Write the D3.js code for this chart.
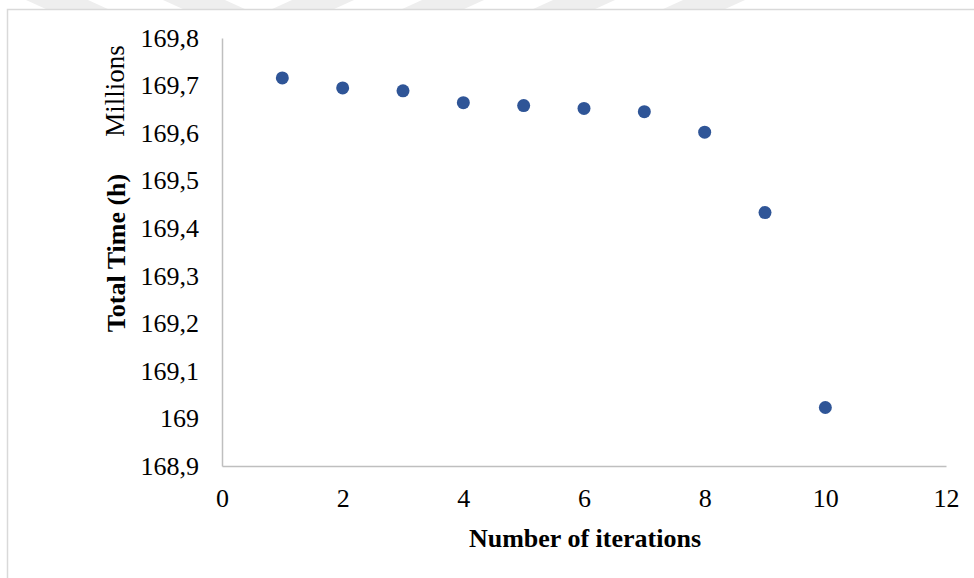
<!DOCTYPE html>
<html>
<head>
<meta charset="utf-8">
<script src="https://cdn.jsdelivr.net/npm/d3@7"></script>
<style>
  html, body { margin: 0; padding: 0; background: #ffffff; }
  svg { display: block; }
  text { font-family: "Liberation Serif", "Times New Roman", serif; fill: #000; }
</style>
</head>
<body>
<script>
// Total time (hours, shown in millions) after each iteration
const iterations = [1, 2, 3, 4, 5, 6, 7, 8, 9, 10];
const totalTimeMillions = [169.716, 169.695, 169.689, 169.664, 169.658, 169.652, 169.645, 169.602, 169.433, 169.023];
const xTicks = [0, 2, 4, 6, 8, 10, 12];
const yTicks = [168.9, 169.0, 169.1, 169.2, 169.3, 169.4, 169.5, 169.6, 169.7, 169.8];
const xTitle = "Number of iterations";
const yTitle = "Total Time (h)";
const unitLabel = "Millions";

const W = 974, H = 578;
const svg = d3.select("body").append("svg").attr("width", W).attr("height", H);

// faint decorative bands along the top edge
const bands = [[26, 1], [163, 1], [292, -1], [422, -1], [553, -1], [683, -1]];
svg.append("g").selectAll("path").data(bands).join("path")
  .attr("d", ([x0, dir]) => {
    const w = 62, h = 10, s = 22 * dir;
    return `M${x0},0 L${x0 + w},0 L${x0 + w + s},${h} L${x0 + s},${h} Z`;
  })
  .attr("fill", "#eeeeee");

// chart area border
svg.append("rect")
  .attr("x", 7.5).attr("y", 9.5)
  .attr("width", W).attr("height", H)
  .attr("fill", "#ffffff").attr("stroke", "#d9d9d9").attr("stroke-width", 1.5);

const x = d3.scaleLinear().domain([0, 12]).range([222, 946]);
const y = d3.scaleLinear().domain([168.9, 169.8]).range([466, 38]);

const loc = d3.formatLocale({ decimal: ",", thousands: ".", grouping: [3], currency: ["", ""] });
const fmt = loc.format("~g");

// axes: plain grey lines, no tick marks
const xAxis = d3.axisBottom(x).tickValues(xTicks).tickSize(0).tickPadding(23).tickFormat(d3.format("d"));
const gx = svg.append("g").attr("transform", `translate(0,${y(168.9)})`).call(xAxis);
gx.attr("font-family", null);
gx.select(".domain").attr("stroke", "#bfbfbf").attr("stroke-width", 1.5);
gx.selectAll("text").attr("font-size", 26).style("font-family", "'Liberation Serif', serif").attr("fill", "#000");

const yAxis = d3.axisLeft(y).tickValues(yTicks).tickSize(0).tickPadding(23).tickFormat(fmt);
const gy = svg.append("g").attr("transform", `translate(${x(0)},0)`).call(yAxis);
gy.attr("font-family", null);
gy.select(".domain").attr("stroke", "#bfbfbf").attr("stroke-width", 1.5);
gy.selectAll("text").attr("font-size", 26).style("font-family", "'Liberation Serif', serif").attr("fill", "#000");

// markers
svg.append("g").selectAll("circle")
  .data(iterations.map((it, i) => [it, totalTimeMillions[i]]))
  .join("circle")
  .attr("cx", d => x(d[0]))
  .attr("cy", d => y(d[1]))
  .attr("r", 6.5)
  .attr("fill", "#2f5597");

// titles
svg.append("text")
  .attr("x", 585).attr("y", 547)
  .attr("text-anchor", "middle")
  .attr("font-size", 26).attr("font-weight", "bold")
  .text(xTitle);

svg.append("text")
  .attr("transform", "translate(125,253) rotate(-90)")
  .attr("text-anchor", "middle")
  .attr("font-size", 26).attr("font-weight", "bold")
  .text(yTitle);

svg.append("text")
  .attr("transform", "translate(124,91) rotate(-90)")
  .attr("text-anchor", "middle")
  .attr("font-size", 27)
  .text(unitLabel);
</script>
</body>
</html>
